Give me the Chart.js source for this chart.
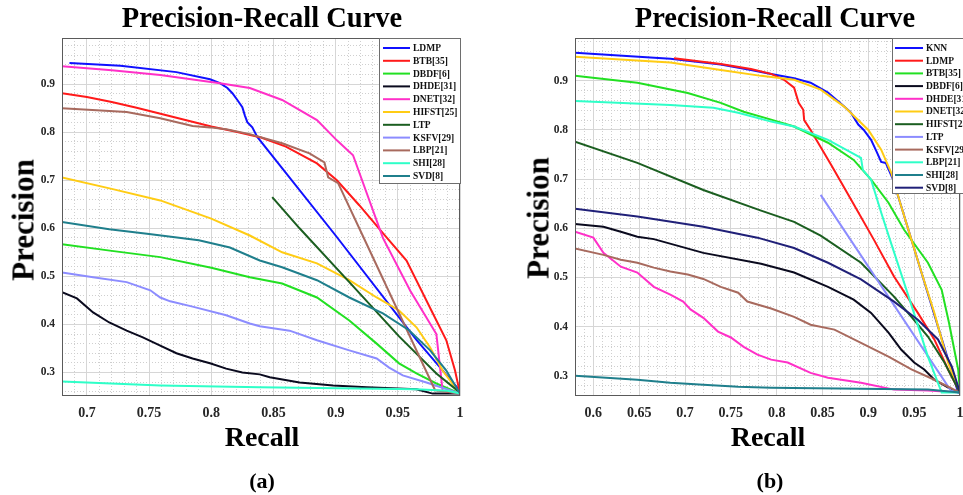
<!DOCTYPE html>
<html><head><meta charset="utf-8">
<script src="https://cdn.jsdelivr.net/npm/chart.js@4.4.1/dist/chart.umd.min.js"></script>
<style>
html,body{margin:0;padding:0;background:#fff;width:963px;height:495px;overflow:hidden;position:relative;font-family:"Liberation Serif","Times New Roman",serif;}
canvas{position:absolute;display:block;}
.t{position:absolute;font-weight:bold;color:#000;white-space:nowrap;line-height:1;}
</style></head><body>
<canvas id="ca" width="470" height="425" style="left:0;top:0"></canvas>
<canvas id="cb" width="483" height="425" style="left:480px;top:0"></canvas>
<div class="t" style="left:262px;top:4px;font-size:28.5px;transform:translate(-50%,0)">Precision-Recall Curve</div>
<div class="t" style="left:775px;top:4px;font-size:28.5px;transform:translate(-50%,0)">Precision-Recall Curve</div>
<div class="t" style="left:23px;top:220px;font-size:31px;transform:translate(-50%,-50%) rotate(-90deg)">Precision</div>
<div class="t" style="left:538px;top:218px;font-size:31px;transform:translate(-50%,-50%) rotate(-90deg)">Precision</div>
<div class="t" style="left:262px;top:422.5px;font-size:28px;transform:translate(-50%,0)">Recall</div>
<div class="t" style="left:768px;top:422.5px;font-size:28px;transform:translate(-50%,0)">Recall</div>
<div class="t" style="left:262px;top:470px;font-size:22px;transform:translate(-50%,0)">(a)</div>
<div class="t" style="left:770px;top:470px;font-size:22px;transform:translate(-50%,0)">(b)</div>
<script>
// ---------- tick labels ----------
const X_TICKS_A = [0.7, 0.75, 0.8, 0.85, 0.9, 0.95, 1];
const Y_TICKS_A = [0.3, 0.4, 0.5, 0.6, 0.7, 0.8, 0.9];
const X_TICKS_B = [0.6, 0.65, 0.7, 0.75, 0.8, 0.85, 0.9, 0.95, 1];
const Y_TICKS_B = [0.3, 0.4, 0.5, 0.6, 0.7, 0.8, 0.9];

// ---------- series names ----------
const LABELS_A = ['LDMP','BTB[35]','DBDF[6]','DHDE[31]','DNET[32]','HIFST[25]','LTP','KSFV[29]','LBP[21]','SHI[28]','SVD[8]'];
const LABELS_B = ['KNN','LDMP','BTB[35]','DBDF[6]','DHDE[31]','DNET[32]','HIFST[25]','LTP','KSFV[29]','LBP[21]','SHI[28]','SVD[8]'];

// ---------- chart (a) data: recall (R) / precision (P) ----------
const A_LDMP_R = [0.686,0.727,0.772,0.799,0.807,0.813,0.817,0.821,0.825,0.827,0.829,0.833,0.837,0.9,0.965,1.0];
const A_LDMP_P = [0.944,0.938,0.925,0.910,0.902,0.892,0.881,0.867,0.852,0.835,0.821,0.81,0.79,0.585,0.368,0.262];
const A_BTB_R = [0.68,0.70,0.72,0.74,0.76,0.78,0.80,0.82,0.84,0.86,0.885,0.901,0.919,0.938,0.957,0.977,0.989,0.996,1.0];
const A_BTB_P = [0.881,0.873,0.863,0.851,0.838,0.825,0.812,0.801,0.789,0.77,0.735,0.70,0.648,0.59,0.533,0.429,0.367,0.304,0.256];
const A_DBDF_R = [0.68,0.72,0.759,0.80,0.831,0.857,0.885,0.911,0.933,0.951,0.965,0.981,1.0];
const A_DBDF_P = [0.567,0.553,0.54,0.518,0.498,0.485,0.456,0.408,0.36,0.319,0.298,0.277,0.256];
const A_DHDE_R = [0.68,0.692,0.705,0.718,0.732,0.745,0.759,0.772,0.785,0.799,0.812,0.825,0.839,0.847,0.871,0.898,0.925,0.965,0.978,1.0];
const A_DHDE_P = [0.467,0.454,0.425,0.404,0.387,0.373,0.356,0.34,0.329,0.319,0.308,0.30,0.296,0.29,0.279,0.273,0.269,0.265,0.256,0.256];
const A_DNET_R = [0.68,0.72,0.759,0.807,0.831,0.857,0.885,0.901,0.914,0.938,0.96,0.981,0.986,1.0];
const A_DNET_P = [0.937,0.929,0.919,0.902,0.892,0.867,0.825,0.783,0.752,0.58,0.47,0.38,0.262,0.256];
const A_HIFST_R = [0.68,0.72,0.759,0.80,0.831,0.857,0.885,0.911,0.933,0.951,0.965,0.976,0.986,1.0];
const A_HIFST_P = [0.706,0.682,0.658,0.62,0.585,0.55,0.527,0.492,0.456,0.429,0.394,0.352,0.304,0.256];
const A_LTP_R = [0.849,0.871,0.911,0.951,0.981,1.0];
const A_LTP_P = [0.665,0.600,0.488,0.375,0.298,0.258];
const A_KSFV_R = [0.68,0.705,0.732,0.751,0.759,0.767,0.785,0.812,0.831,0.839,0.863,0.885,0.911,0.933,0.943,0.954,0.973,1.0];
const A_KSFV_P = [0.508,0.498,0.488,0.471,0.456,0.448,0.437,0.419,0.402,0.396,0.387,0.367,0.346,0.329,0.31,0.294,0.279,0.256];
const A_LBP_R = [0.68,0.732,0.759,0.785,0.799,0.812,0.831,0.857,0.879,0.891,0.894,0.902,0.919,0.98,1.0];
const A_LBP_P = [0.85,0.842,0.829,0.813,0.81,0.806,0.796,0.777,0.756,0.737,0.706,0.694,0.6,0.263,0.256];
const A_SHI_R = [0.68,0.759,0.839,0.965,0.99,1.0];
const A_SHI_P = [0.281,0.273,0.269,0.265,0.262,0.256];
const A_SVD_R = [0.68,0.718,0.75,0.79,0.815,0.839,0.857,0.885,0.911,0.938,0.959,0.976,0.989,1.0];
const A_SVD_P = [0.613,0.598,0.588,0.575,0.56,0.533,0.519,0.492,0.456,0.423,0.388,0.346,0.304,0.256];

// ---------- chart (b) data ----------
const B_KNN_R = [0.58,0.684,0.739,0.772,0.794,0.819,0.837,0.856,0.874,0.881,0.889,0.895,0.903,0.909,0.914,0.919,0.927,0.947,0.998,1.0];
const B_KNN_P = [0.957,0.945,0.933,0.922,0.914,0.905,0.896,0.876,0.847,0.835,0.811,0.80,0.78,0.756,0.735,0.733,0.699,0.577,0.266,0.265];
const B_LDMP_R = [0.688,0.739,0.772,0.794,0.808,0.819,0.824,0.829,0.83,0.837,0.86,0.88,0.906,0.928,0.954,0.972,0.987,1.0];
const B_LDMP_P = [0.946,0.934,0.924,0.914,0.902,0.886,0.855,0.841,0.82,0.80,0.727,0.662,0.577,0.502,0.428,0.374,0.313,0.266];
const B_BTB_R = [0.58,0.648,0.703,0.739,0.764,0.794,0.819,0.856,0.884,0.903,0.922,0.939,0.965,0.98,0.988,0.998,1.0];
const B_BTB_P = [0.91,0.896,0.875,0.855,0.837,0.821,0.807,0.774,0.739,0.699,0.652,0.597,0.53,0.475,0.408,0.313,0.266];
const B_DBDF_R = [0.58,0.611,0.63,0.648,0.666,0.72,0.783,0.819,0.856,0.884,0.903,0.922,0.936,0.95,0.961,0.972,0.991,1.0];
const B_DBDF_P = [0.609,0.603,0.593,0.583,0.578,0.55,0.528,0.51,0.481,0.455,0.428,0.388,0.353,0.327,0.313,0.292,0.272,0.266];
const B_DHDE_R = [0.58,0.6,0.611,0.63,0.648,0.666,0.684,0.698,0.706,0.72,0.736,0.75,0.764,0.779,0.794,0.812,0.837,0.856,0.892,0.928,0.965,1.0];
const B_DHDE_P = [0.593,0.581,0.55,0.522,0.51,0.481,0.465,0.451,0.435,0.418,0.39,0.378,0.359,0.343,0.333,0.327,0.306,0.296,0.286,0.272,0.27,0.266];
const B_DNET_R = [0.58,0.684,0.739,0.783,0.819,0.848,0.874,0.9,0.914,0.925,0.936,0.947,0.958,0.972,0.987,1.0];
const B_DNET_P = [0.949,0.937,0.922,0.91,0.902,0.882,0.847,0.80,0.76,0.713,0.644,0.577,0.51,0.428,0.327,0.266];
const B_HIFST_R = [0.58,0.648,0.72,0.783,0.819,0.848,0.892,0.928,0.947,0.965,0.983,1.0];
const B_HIFST_P = [0.776,0.733,0.678,0.636,0.613,0.585,0.53,0.461,0.42,0.38,0.327,0.266];
const B_LTP_R = [0.848,0.99,1.0];
const B_LTP_P = [0.668,0.27,0.266];
const B_KSFV_R = [0.58,0.611,0.63,0.648,0.666,0.684,0.703,0.72,0.739,0.758,0.768,0.779,0.794,0.819,0.837,0.863,0.892,0.922,0.947,0.972,1.0];
const B_KSFV_P = [0.559,0.546,0.536,0.53,0.52,0.512,0.506,0.497,0.481,0.469,0.451,0.445,0.437,0.42,0.404,0.394,0.367,0.339,0.313,0.292,0.266];
const B_LBP_R = [0.58,0.684,0.731,0.758,0.794,0.819,0.856,0.892,0.894,0.903,0.914,0.923,0.944,0.965,0.98,1.0];
const B_LBP_P = [0.859,0.851,0.845,0.835,0.817,0.807,0.78,0.743,0.719,0.699,0.632,0.58,0.461,0.339,0.266,0.266];
const B_SHI_R = [0.58,0.648,0.684,0.72,0.758,0.794,0.965,1.0];
const B_SHI_P = [0.30,0.292,0.286,0.282,0.278,0.276,0.272,0.266];
const B_SVD_R = [0.58,0.648,0.72,0.779,0.819,0.856,0.892,0.928,0.954,0.976,0.991,1.0];
const B_SVD_P = [0.64,0.624,0.603,0.581,0.56,0.53,0.496,0.451,0.414,0.374,0.319,0.266];

// ---------- styles ----------
const C = {
  blue:'#1010ff', red:'#ff1a1a', green:'#22e022', black:'#0a0a1e', magenta:'#ff30c8',
  yellow:'#ffcc14', dkgreen:'#1b5e20', lavender:'#8c8cff', brown:'#a86a5e',
  aqua:'#2effc8', teal:'#1f7f8c', navy:'#202078'
};
const SERIES_A = [
  [A_LDMP_R,A_LDMP_P,C.blue],[A_BTB_R,A_BTB_P,C.red],[A_DBDF_R,A_DBDF_P,C.green],
  [A_DHDE_R,A_DHDE_P,C.black],[A_DNET_R,A_DNET_P,C.magenta],[A_HIFST_R,A_HIFST_P,C.yellow],
  [A_LTP_R,A_LTP_P,C.dkgreen],[A_KSFV_R,A_KSFV_P,C.lavender],[A_LBP_R,A_LBP_P,C.brown],
  [A_SHI_R,A_SHI_P,C.aqua],[A_SVD_R,A_SVD_P,C.teal]
];
const SERIES_B = [
  [B_KNN_R,B_KNN_P,C.blue],[B_LDMP_R,B_LDMP_P,C.red],[B_BTB_R,B_BTB_P,C.green],
  [B_DBDF_R,B_DBDF_P,C.black],[B_DHDE_R,B_DHDE_P,C.magenta],[B_DNET_R,B_DNET_P,C.yellow],
  [B_HIFST_R,B_HIFST_P,C.dkgreen],[B_LTP_R,B_LTP_P,C.lavender],[B_KSFV_R,B_KSFV_P,C.brown],
  [B_LBP_R,B_LBP_P,C.aqua],[B_SHI_R,B_SHI_P,C.teal],[B_SVD_R,B_SVD_P,C.navy]
];

const FONT = '"Liberation Serif","Times New Roman",serif';

const boxLegend = {
  id:'boxLegend',
  afterDraw(chart, args, o){
    const ctx = chart.ctx, a = chart.chartArea;
    ctx.save();
    ctx.strokeStyle = '#5a5a5a'; ctx.lineWidth = 1;
    ctx.strokeRect(Math.round(a.left)+0.5, Math.round(a.top)+0.5, Math.round(a.right-a.left)-1, Math.round(a.bottom-a.top)-1);
    // legend
    ctx.fillStyle = '#fff';
    ctx.fillRect(o.x, o.y, o.w, o.h);
    ctx.strokeStyle = '#6e6e6e';
    ctx.strokeRect(o.x+0.5, o.y+0.5, o.w-1, o.h-1);
    ctx.font = 'bold ' + o.fs + 'px ' + FONT;
    ctx.textBaseline = 'middle';
    ctx.textAlign = 'left';
    chart.data.datasets.forEach((ds, i) => {
      const y = o.y0 + i * o.dy;
      ctx.strokeStyle = ds.borderColor; ctx.lineWidth = 2;
      ctx.beginPath(); ctx.moveTo(o.l1, y); ctx.lineTo(o.l2, y); ctx.stroke();
      ctx.fillStyle = '#111';
      ctx.fillText(ds.label, o.tx, y + 0.5);
    });
    ctx.restore();
  }
};

function fmt(v){ return String(+Number(v).toFixed(2)); }
function zeroPad(s){ s.paddingLeft = 0; s.paddingRight = 0; s.paddingTop = 0; s.paddingBottom = 0; }

function makeChart(id, series, labels, xmin, xmax, ymin, ymax, xt, yt, yw, padR, leg){
  const n = series.length;
  const datasets = series.map((s, i) => ({
    label: labels[i],
    data: s[0].map((x, k) => ({x: x, y: s[1][k]})),
    borderColor: s[2], backgroundColor: s[2],
    borderWidth: 2, pointRadius: 0, tension: 0, fill: false,
    order: n - i
  }));
  return new Chart(document.getElementById(id), {
    type: 'line',
    data: { datasets },
    options: {
      responsive: false, animation: false, devicePixelRatio: 1,
      layout: { padding: { left: 0, top: 38, right: padR, bottom: 0 } },
      plugins: { legend: { display: false }, tooltip: { enabled: false }, boxLegend: leg },
      scales: {
        xm: {
          type: 'linear', position: 'top', min: xmin, max: xmax,
          ticks: { display: false }, border: { display: false, dash: [1, 2] },
          grid: { color: '#cfcfcf', lineWidth: 1, drawTicks: false },
          afterBuildTicks: s => { const t = []; for (let v = Math.ceil(xmin * 100); v <= Math.floor(xmax * 100); v++) t.push({ value: v / 100 }); s.ticks = t; },
          afterFit: s => { s.height = 0; zeroPad(s); }
        },
        ym: {
          type: 'linear', position: 'right', min: ymin, max: ymax,
          ticks: { display: false }, border: { display: false, dash: [1, 2] },
          grid: { color: '#cfcfcf', lineWidth: 1, drawTicks: false },
          afterBuildTicks: s => { const t = []; for (let v = Math.ceil(ymin * 50); v <= Math.floor(ymax * 50); v++) t.push({ value: v / 50 }); s.ticks = t; },
          afterFit: s => { s.width = 0; zeroPad(s); }
        },
        x: {
          type: 'linear', position: 'bottom', min: xmin, max: xmax,
          border: { display: false },
          grid: { color: '#d6d6d6', lineWidth: 1, drawTicks: false },
          ticks: { padding: 9, color: '#262626', font: { family: FONT, size: 14, weight: 'bold' }, callback: fmt, maxRotation: 0, autoSkip: false },
          afterBuildTicks: s => { s.ticks = xt.map(v => ({ value: v })); },
          afterFit: s => { s.height = 29; zeroPad(s); }
        },
        y: {
          type: 'linear', position: 'left', min: ymin, max: ymax,
          border: { display: false },
          grid: { color: '#d6d6d6', lineWidth: 1, drawTicks: false },
          ticks: { padding: 7, color: '#262626', font: { family: FONT, size: 11.5, weight: 'bold' }, callback: fmt, autoSkip: false },
          afterBuildTicks: s => { s.ticks = yt.map(v => ({ value: v })); },
          afterFit: s => { s.width = yw; zeroPad(s); }
        }
      }
    },
    plugins: [boxLegend]
  });
}

makeChart('ca', SERIES_A, LABELS_A, 0.68, 1.0, 0.251, 0.996, X_TICKS_A, Y_TICKS_A, 62, 10,
  { x: 379, y: 38, w: 82, h: 146, y0: 48, dy: 12.8, l1: 383, l2: 410, tx: 413, fs: 9.5 });
makeChart('cb', SERIES_B, LABELS_B, 0.58, 1.0, 0.259, 0.987, X_TICKS_B, Y_TICKS_B, 95, 3,
  { x: 412, y: 38, w: 90, h: 156, y0: 48, dy: 12.7, l1: 415, l2: 443, tx: 446, fs: 9.5 });
</script>
</body></html>
